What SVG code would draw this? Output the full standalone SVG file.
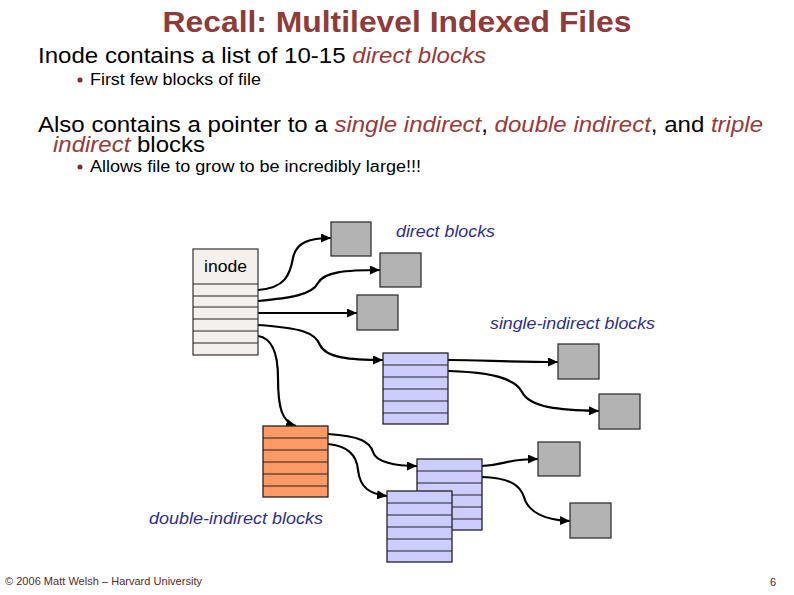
<svg xmlns="http://www.w3.org/2000/svg" width="794" height="595" viewBox="0 0 794 595">
<style>
  text { font-family: "Liberation Sans", Arial, sans-serif; }
  .title { font-size: 29px; font-weight: bold; fill: #8E3B3B; }
  .main { font-size: 22px; fill: #000; }
  .em { font-style: italic; fill: #953B3B; }
  .sub { font-size: 16px; fill: #000; }
  .lbl { font-size: 16px; font-style: italic; fill: #2E2E8E; }
  .foot { font-size: 11px; fill: #5A2828; }
  .blk { fill: #B3B3B3; stroke: #333; stroke-width: 1.3; }
  .ino { fill: #F4F0EE; stroke: #333; stroke-width: 1.2; }
  .blue { fill: #CCCCFF; stroke: #222; stroke-width: 1.3; }
  .orange { fill: #FF9966; stroke: #222; stroke-width: 1.3; }
  .row { stroke: #222; stroke-width: 1.2; fill: none; }
  .arr { fill: none; stroke: #000; stroke-width: 2.2; marker-end: url(#ah); }
</style>
<defs>
  <marker id="ah" markerUnits="userSpaceOnUse" markerWidth="11" markerHeight="9" refX="10" refY="4.5" orient="auto">
    <path d="M0,0 L10,4.5 L0,9 z" fill="#000"/>
  </marker>
</defs>
<rect width="794" height="595" fill="#fff"/>

<text class="title" x="397" y="32" text-anchor="middle" textLength="469" lengthAdjust="spacingAndGlyphs">Recall: Multilevel Indexed Files</text>
<text class="main" x="38" y="63" textLength="448" lengthAdjust="spacingAndGlyphs">Inode contains a list of 10-15 <tspan class="em">direct blocks</tspan></text>
<circle cx="80" cy="80" r="2.5" fill="#7A2E2E"/>
<text class="sub" x="90" y="85" textLength="171" lengthAdjust="spacingAndGlyphs">First few blocks of file</text>
<text class="main" x="38" y="132" textLength="725" lengthAdjust="spacingAndGlyphs">Also contains a pointer to a <tspan class="em">single indirect</tspan>, <tspan class="em">double indirect</tspan>, and <tspan class="em">triple</tspan></text>
<text class="main" x="53" y="152" textLength="152" lengthAdjust="spacingAndGlyphs"><tspan class="em">indirect</tspan> blocks</text>
<circle cx="80" cy="167" r="2.5" fill="#7A2E2E"/>
<text class="sub" x="90" y="172" textLength="331" lengthAdjust="spacingAndGlyphs">Allows file to grow to be incredibly large!!!</text>

<g id="connectors">
  <path class="arr" d="M258,290 C285,288 290,275 293,258 C296,242 310,238 331,238"/>
  <path class="arr" d="M258,301 C290,298 312,295 318,283 C324,272 345,270 380,270"/>
  <path class="arr" d="M258,313 L357,313"/>
  <path class="arr" d="M258,325 C300,328 315,332 320,345 C326,358 350,360 383,360"/>
  <path class="arr" d="M258,336 C272,338 278,352 278,378 C278,408 282,422 296,426"/>
  <path class="arr" d="M328,434 C360,436 370,442 373,452 C376,462 395,466 417,466"/>
  <path class="arr" d="M328,444 C350,446 357,458 358,470 C360,488 370,494 387,496"/>
  <path class="arr" d="M448,360 C480,360 510,362 558,362"/>
  <path class="arr" d="M448,371 C490,372 515,378 522,392 C530,408 560,410 599,411"/>
  <path class="arr" d="M482,466 C505,465 505,459 538,459"/>
  <path class="arr" d="M482,477 C510,478 520,485 524,497 C528,512 545,520 570,521"/>
</g>

<g id="inode">
  <rect class="ino" x="193" y="249" width="65" height="106"/>
  <path class="row" d="M193,284 H258 M193,296 H258 M193,307 H258 M193,319 H258 M193,331 H258 M193,343 H258"/>
  <text class="sub" x="204" y="272" textLength="43" lengthAdjust="spacingAndGlyphs">inode</text>
</g>

<g id="direct1"><rect class="blk" x="331" y="222" width="40" height="34"/></g>
<g id="direct2"><rect class="blk" x="380" y="253" width="41" height="34"/></g>
<g id="direct3"><rect class="blk" x="357" y="295" width="41" height="35"/></g>
<g id="label-direct"><text class="lbl" x="396" y="237" textLength="99" lengthAdjust="spacingAndGlyphs">direct blocks</text></g>

<g id="single-indirect">
  <rect class="blue" x="383" y="353" width="65" height="71"/>
  <path class="row" d="M383,365 H448 M383,377 H448 M383,389 H448 M383,401 H448 M383,413 H448"/>
</g>
<g id="label-single"><text class="lbl" x="490" y="329" textLength="165" lengthAdjust="spacingAndGlyphs">single-indirect blocks</text></g>
<g id="s-data1"><rect class="blk" x="558" y="344" width="41" height="35"/></g>
<g id="s-data2"><rect class="blk" x="599" y="394" width="41" height="35"/></g>

<g id="double-indirect">
  <rect class="orange" x="263" y="426" width="65" height="71"/>
  <path class="row" d="M263,438 H328 M263,450 H328 M263,462 H328 M263,474 H328 M263,486 H328"/>
</g>
<g id="label-double"><text class="lbl" x="149" y="524" textLength="174" lengthAdjust="spacingAndGlyphs">double-indirect blocks</text></g>

<g id="d-ind1">
  <rect class="blue" x="417" y="459" width="65" height="71"/>
  <path class="row" d="M417,471 H482 M417,483 H482 M417,495 H482 M417,507 H482 M417,519 H482"/>
</g>
<g id="d-ind2">
  <rect class="blue" x="387" y="491" width="65" height="71"/>
  <path class="row" d="M387,503 H452 M387,515 H452 M387,527 H452 M387,539 H452 M387,551 H452"/>
</g>
<g id="d-data1"><rect class="blk" x="538" y="442" width="42" height="34"/></g>
<g id="d-data2"><rect class="blk" x="570" y="503" width="41" height="35"/></g>

<text class="foot" x="5" y="585" textLength="197" lengthAdjust="spacingAndGlyphs">© 2006 Matt Welsh – Harvard University</text>
<text class="foot" x="770" y="586">6</text>
</svg>
